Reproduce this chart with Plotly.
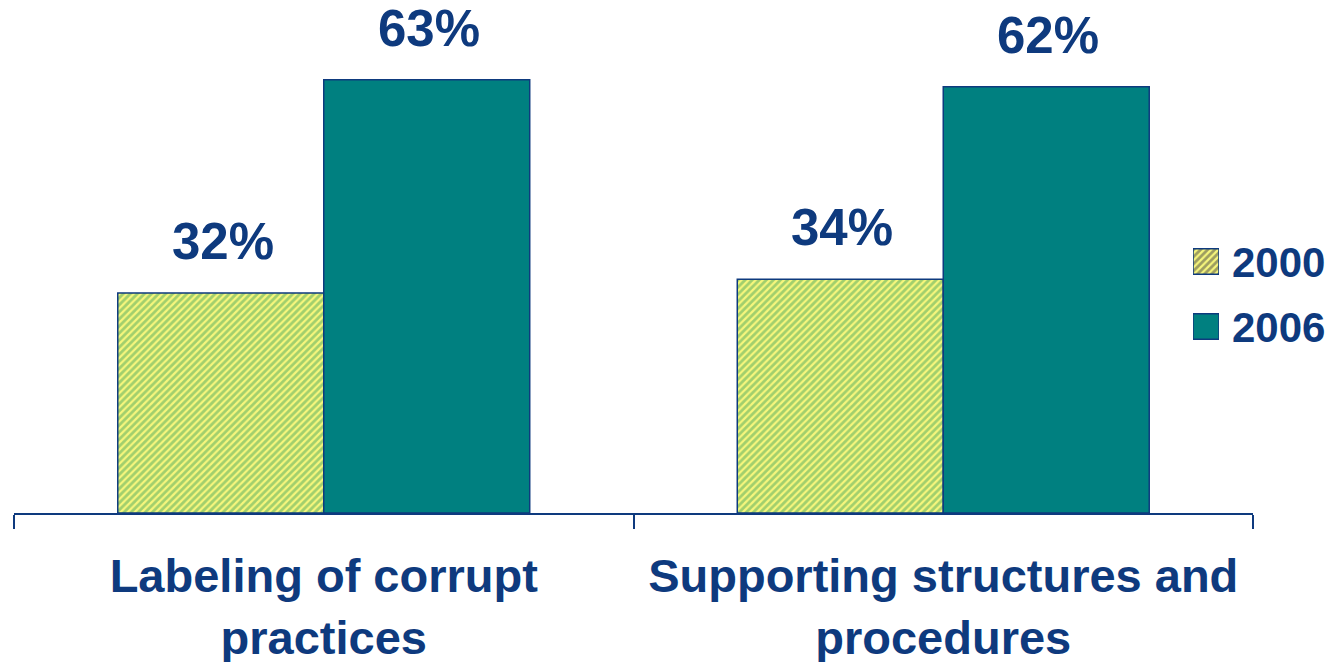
import plotly.graph_objects as go

# Survey share by topic, 2000 vs 2006
categories = ["Labeling of corrupt<br>practices", "Supporting structures and<br>procedures"]
years = ["2000", "2006"]
values_2000 = [32, 34]
values_2006 = [63, 62]

NAVY = "#0E3A7E"
TEAL = "#008080"
HATCH_FG = "#4BA85E"
HATCH_BG = "#F6F67C"
FONT = "Liberation Sans"

W, H = 1330, 662
M_L, M_R, M_T, M_B = 14, 77, 0, 149
plot_w = W - M_L - M_R
plot_h = H - M_T - M_B
y_max = 74.6
BARGAP = 0.335

hatch = dict(shape="/", fgcolor=HATCH_FG, bgcolor=HATCH_BG, size=5, solidity=0.55)

fig = go.Figure()

fig.add_trace(go.Bar(
    x=categories, y=values_2000, name=years[0],
    marker=dict(color=HATCH_BG, line=dict(color=NAVY, width=1.5), pattern=hatch),
    showlegend=False,
))
fig.add_trace(go.Bar(
    x=categories, y=values_2006, name=years[1],
    marker=dict(color=TEAL, line=dict(color=NAVY, width=1.5)),
    showlegend=False,
))

# value labels above each bar
half = plot_w / len(categories) * (1 - BARGAP) / 4
for vals, shift in ((values_2000, -half + 2), (values_2006, half + 2)):
    for cat, v in zip(categories, vals):
        fig.add_annotation(
            x=cat, y=v, xref="x", yref="y", text=f"{v}%", showarrow=False,
            xshift=shift, yanchor="bottom", yshift=21,
            font=dict(family=FONT, size=51, color=NAVY, weight="bold"),
        )

# legend: swatches drawn as small horizontal bars on their own axes
def fx(px):
    return (px - M_L) / plot_w

def fy(py):
    return (plot_h - (py - M_T)) / plot_h

sw_x0, sw_x1 = 1193, 1219
sw_top, sw_bot = 229, 359
fig.add_trace(go.Bar(
    y=years[::-1], x=[1, 1], orientation="h", xaxis="x2", yaxis="y2",
    width=0.39, showlegend=False, hoverinfo="skip",
    marker=dict(
        color=[TEAL, HATCH_BG],
        line=dict(color=NAVY, width=1.5),
        pattern=dict(shape=["", "/"], fgcolor=HATCH_FG, bgcolor=HATCH_BG, size=5, solidity=0.55),
    ),
))
fig.update_layout(
    xaxis2=dict(domain=[fx(sw_x0), fx(sw_x1)], range=[0, 1], visible=False, anchor="y2"),
    yaxis2=dict(domain=[fy(sw_bot), fy(sw_top)], range=[-0.5, 1.5],
                visible=False, anchor="x2", type="category"),
)
for yr, cy in zip(years, (262, 327)):
    fig.add_annotation(
        x=fx(1230), y=fy(cy), xref="paper", yref="paper", text=yr, showarrow=False,
        xanchor="left", yanchor="middle",
        font=dict(family=FONT, size=42, color=NAVY, weight="bold"),
    )

fig.update_layout(
    width=W, height=H,
    margin=dict(l=M_L, r=M_R, t=M_T, b=M_B),
    paper_bgcolor="white", plot_bgcolor="rgba(0,0,0,0)",
    barmode="group", bargap=BARGAP, bargroupgap=0,
    xaxis=dict(
        showline=True, linecolor=NAVY, linewidth=2,
        ticks="outside", tickson="boundaries", ticklen=14, tickwidth=2, tickcolor=NAVY,
        tickfont=dict(family=FONT, size=47, color=NAVY, weight="bold"),
        ticklabelstandoff=21, automargin=False,
        showgrid=False, zeroline=False,
    ),
    yaxis=dict(range=[0, y_max], visible=False, showgrid=False, zeroline=False,
               automargin=False),
)

fig.write_html("out.html")
